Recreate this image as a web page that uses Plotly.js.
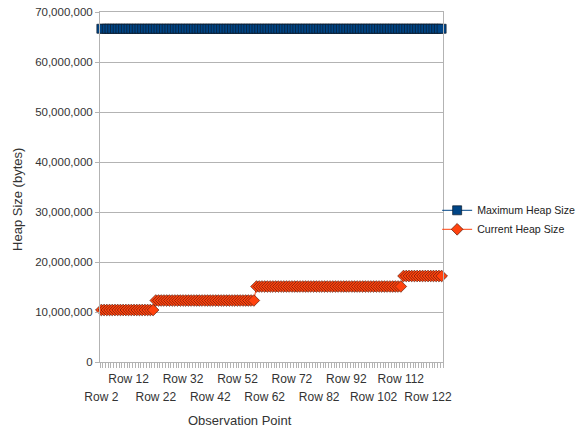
<!DOCTYPE html>
<html>
<head>
<meta charset="utf-8">
<script src="https://cdn.plot.ly/plotly-3.0.1.min.js"></script>
<style>html,body{margin:0;padding:0;background:#fff;}#chart{width:579px;height:431px;}</style>
</head>
<body>
<div id="chart"></div>
<script>
var categories = ["Row 2","Row 3","Row 4","Row 5","Row 6","Row 7","Row 8","Row 9","Row 10","Row 11",
"Row 12","Row 13","Row 14","Row 15","Row 16","Row 17","Row 18","Row 19","Row 20","Row 21",
"Row 22","Row 23","Row 24","Row 25","Row 26","Row 27","Row 28","Row 29","Row 30","Row 31",
"Row 32","Row 33","Row 34","Row 35","Row 36","Row 37","Row 38","Row 39","Row 40","Row 41",
"Row 42","Row 43","Row 44","Row 45","Row 46","Row 47","Row 48","Row 49","Row 50","Row 51",
"Row 52","Row 53","Row 54","Row 55","Row 56","Row 57","Row 58","Row 59","Row 60","Row 61",
"Row 62","Row 63","Row 64","Row 65","Row 66","Row 67","Row 68","Row 69","Row 70","Row 71",
"Row 72","Row 73","Row 74","Row 75","Row 76","Row 77","Row 78","Row 79","Row 80","Row 81",
"Row 82","Row 83","Row 84","Row 85","Row 86","Row 87","Row 88","Row 89","Row 90","Row 91",
"Row 92","Row 93","Row 94","Row 95","Row 96","Row 97","Row 98","Row 99","Row 100","Row 101",
"Row 102","Row 103","Row 104","Row 105","Row 106","Row 107","Row 108","Row 109","Row 110","Row 111",
"Row 112","Row 113","Row 114","Row 115","Row 116","Row 117","Row 118","Row 119","Row 120","Row 121",
"Row 122","Row 123","Row 124","Row 125","Row 126","Row 127"];

var maxHeap = [66650112,66650112,66650112,66650112,66650112,66650112,66650112,66650112,66650112,66650112,
66650112,66650112,66650112,66650112,66650112,66650112,66650112,66650112,66650112,66650112,
66650112,66650112,66650112,66650112,66650112,66650112,66650112,66650112,66650112,66650112,
66650112,66650112,66650112,66650112,66650112,66650112,66650112,66650112,66650112,66650112,
66650112,66650112,66650112,66650112,66650112,66650112,66650112,66650112,66650112,66650112,
66650112,66650112,66650112,66650112,66650112,66650112,66650112,66650112,66650112,66650112,
66650112,66650112,66650112,66650112,66650112,66650112,66650112,66650112,66650112,66650112,
66650112,66650112,66650112,66650112,66650112,66650112,66650112,66650112,66650112,66650112,
66650112,66650112,66650112,66650112,66650112,66650112,66650112,66650112,66650112,66650112,
66650112,66650112,66650112,66650112,66650112,66650112,66650112,66650112,66650112,66650112,
66650112,66650112,66650112,66650112,66650112,66650112,66650112,66650112,66650112,66650112,
66650112,66650112,66650112,66650112,66650112,66650112,66650112,66650112,66650112,66650112,
66650112,66650112,66650112,66650112,66650112,66650112];

var currentHeap = [10400000,10400000,10400000,10400000,10400000,10400000,10400000,10400000,10400000,10400000,
10400000,10400000,10400000,10400000,10400000,10400000,10400000,10400000,10400000,10400000,
12300000,12300000,12300000,12300000,12300000,12300000,12300000,12300000,12300000,12300000,
12300000,12300000,12300000,12300000,12300000,12300000,12300000,12300000,12300000,12300000,
12300000,12300000,12300000,12300000,12300000,12300000,12300000,12300000,12300000,12300000,
12300000,12300000,12300000,12300000,12300000,12300000,12300000,15100000,15100000,15100000,
15100000,15100000,15100000,15100000,15100000,15100000,15100000,15100000,15100000,15100000,
15100000,15100000,15100000,15100000,15100000,15100000,15100000,15100000,15100000,15100000,
15100000,15100000,15100000,15100000,15100000,15100000,15100000,15100000,15100000,15100000,
15100000,15100000,15100000,15100000,15100000,15100000,15100000,15100000,15100000,15100000,
15100000,15100000,15100000,15100000,15100000,15100000,15100000,15100000,15100000,15100000,
15100000,17200000,17200000,17200000,17200000,17200000,17200000,17200000,17200000,17200000,
17200000,17200000,17200000,17200000,17200000,17200000];

var topRowLabels = ["Row 12","Row 32","Row 52","Row 72","Row 92","Row 112"];
var bottomRowLabels = ["Row 2","Row 22","Row 42","Row 62","Row 82","Row 102","Row 122"];
var yTickVals = [0,10000000,20000000,30000000,40000000,50000000,60000000,70000000];

var FONT = "Liberation Sans, Arial, sans-serif";
var GRID = "#b3b3b3";
var N = categories.length;

var traces = [
  {
    x: categories, y: maxHeap, name: "Maximum Heap Size", type: "scatter", mode: "lines+markers",
    line: {color: "#004586", width: 1},
    marker: {symbol: "square", size: 9, color: "#004586", line: {color: "#0b1a2a", width: 0.7}},
    cliponaxis: false, xaxis: "x", yaxis: "y"
  },
  {
    x: categories, y: currentHeap, name: "Current Heap Size", type: "scatter", mode: "lines+markers",
    line: {color: "#ff420e", width: 1},
    marker: {symbol: "diamond", size: 9, color: "#ff420e", line: {color: "#5a1a08", width: 0.7}},
    cliponaxis: false, xaxis: "x", yaxis: "y"
  },
  {
    x: categories, y: currentHeap, type: "scatter", mode: "markers", showlegend: false,
    hoverinfo: "skip", marker: {opacity: 0, size: 1}, xaxis: "x2", yaxis: "y"
  }
];

var layout = {
  width: 579, height: 431,
  margin: {l: 100, r: 136, t: 12, b: 69, pad: 0, autoexpand: false},
  paper_bgcolor: "#ffffff", plot_bgcolor: "#ffffff",
  font: {family: FONT, size: 11, color: "#333333"},
  showlegend: true,
  legend: {xref: "container", yref: "container", x: 0.755, xanchor: "left", y: 0.49, yanchor: "middle",
           bgcolor: "rgba(0,0,0,0)",
           font: {family: FONT, size: 10.6, color: "#222222"}, itemwidth: 30, tracegroupgap: 0},
  xaxis: {
    type: "category", categoryorder: "array", categoryarray: categories,
    range: [-0.5, N - 0.5], fixedrange: true,
    tickmode: "array", tickvals: categories,
    ticktext: categories.map(function (c) { return topRowLabels.indexOf(c) >= 0 ? c : ""; }),
    tickson: "boundaries",
    ticks: "outside", ticklen: 5, tickcolor: GRID, tickwidth: 1,
    showline: true, linecolor: GRID, linewidth: 1, mirror: true,
    showgrid: false, zeroline: false,
    tickfont: {family: FONT, size: 12, color: "#333333"},
    tickangle: 0, ticklabelstandoff: 6
  },
  xaxis2: {
    type: "category", categoryorder: "array", categoryarray: categories,
    overlaying: "x", anchor: "y", side: "bottom",
    range: [-0.5, N - 0.5], fixedrange: true,
    tickmode: "array", tickvals: bottomRowLabels, ticktext: bottomRowLabels,
    ticks: "", showline: false, showgrid: false, zeroline: false,
    tickfont: {family: FONT, size: 12, color: "#333333"},
    tickangle: 0, ticklabelstandoff: 26
  },
  yaxis: {
    range: [0, 70000000], fixedrange: true,
    tickmode: "array", tickvals: yTickVals, tickformat: ",d",
    ticks: "outside", ticklen: 4, tickcolor: GRID,
    showline: true, linecolor: GRID, linewidth: 1, mirror: true,
    showgrid: true, gridcolor: GRID, gridwidth: 1, zeroline: false,
    tickfont: {family: FONT, size: 11.5, color: "#333333"}
  },
  annotations: [
    {text: "Heap Size (bytes)", xref: "paper", yref: "paper", x: -0.239, y: 0.463,
     xanchor: "center", yanchor: "middle", textangle: -90, showarrow: false,
     font: {family: FONT, size: 13, color: "#333333"}},
    {text: "Observation Point", xref: "paper", yref: "paper", x: 0.408, y: -0.166,
     xanchor: "center", yanchor: "middle", showarrow: false,
     font: {family: FONT, size: 13, color: "#333333"}}
  ]
};

Plotly.newPlot("chart", traces, layout, {displayModeBar: false, staticPlot: true});
</script>
</body>
</html>
